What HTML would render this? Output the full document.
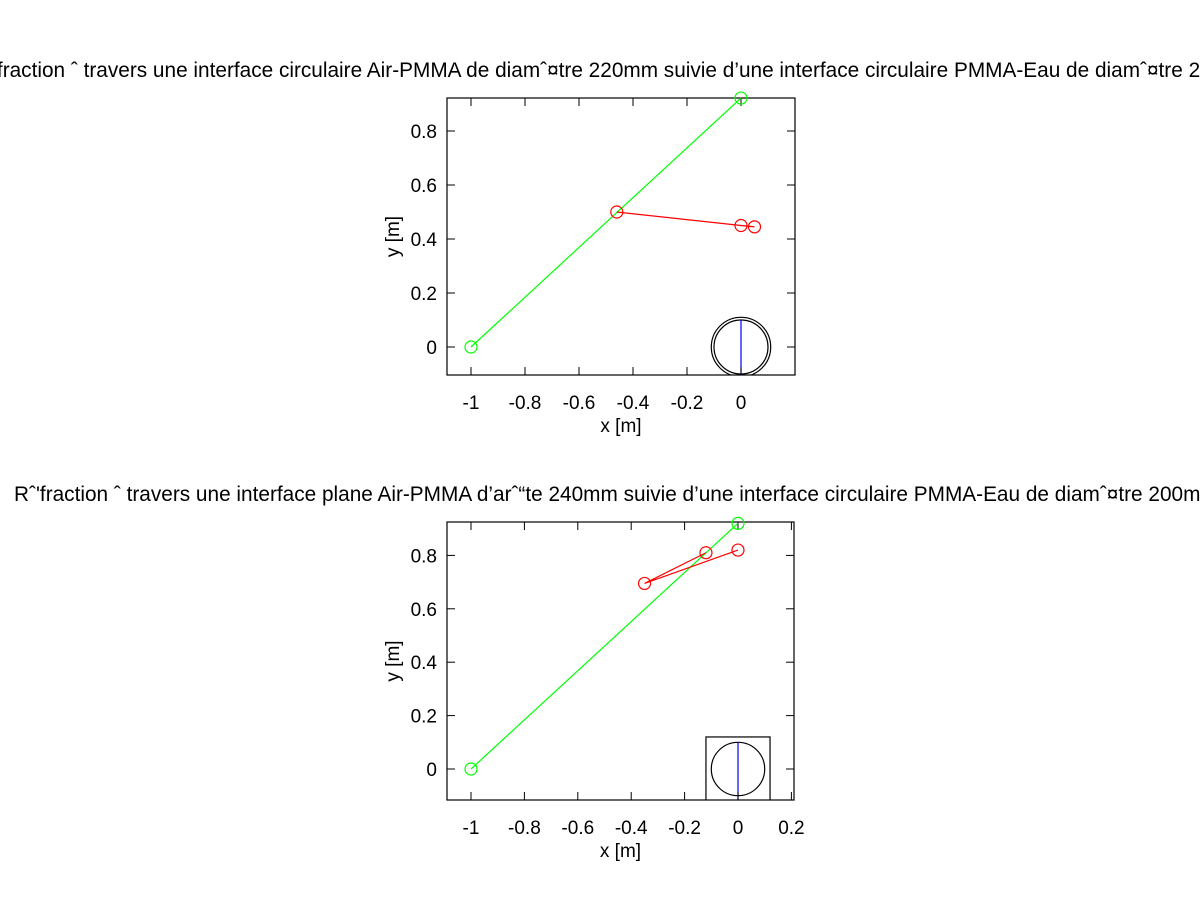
<!DOCTYPE html>
<html><head><meta charset="utf-8"><style>
body{margin:0;background:#fff}
svg{display:block;font-family:"Liberation Sans",Arial,sans-serif}
</style></head><body>
<svg id="svg" width="1200" height="900" viewBox="0 0 1200 900">
<text x="-29" y="77" font-size="20.8">Rˆ'fraction ˆ  travers une interface circulaire Air-PMMA de diamˆ¤tre 220mm suivie d’une interface circulaire PMMA-Eau de diamˆ¤tre 200mm</text>
<text x="14" y="501" font-size="20.8">Rˆ'fraction ˆ  travers une interface plane Air-PMMA d’arˆ“te 240mm suivie d’une interface circulaire PMMA-Eau de diamˆ¤tre 200mm</text>
</svg>
<script>
// top chart data
const topGreenX=[-1,0];
const topGreenY=[0,0.922];
const topRedX=[-0.46,0,0.05];
const topRedY=[0.5,0.45,0.445];
const topXTicks=[-1,-0.8,-0.6,-0.4,-0.2,0];
const topYTicks=[0,0.2,0.4,0.6,0.8];
// bottom chart data
const botGreenX=[-1,0];
const botGreenY=[0,0.92];
const botRedX=[0,-0.35,-0.12];
const botRedY=[0.82,0.695,0.81];
const botXTicks=[-1,-0.8,-0.6,-0.4,-0.2,0,0.2];
const botYTicks=[0,0.2,0.4,0.6,0.8];

const NS="http://www.w3.org/2000/svg";
const svg=document.getElementById('svg');
function mk(tag,attrs,parent){const e=document.createElementNS(NS,tag);for(const k in attrs)e.setAttribute(k,attrs[k]);(parent||svg).appendChild(e);return e;}

function chart(p){
  const g=mk('g',{});
  
  
  const sx=v=>p.ox+v*p.k, sy=v=>p.oy-v*p.k;
  const L=p.L,R=p.R,T=p.T,B=p.B;
  const clipId=p.name+'-clip';
  const cp=mk('clipPath',{id:clipId},g);mk('rect',{x:L,y:T,width:R-L,height:B-T},cp);
  const plot=mk('g',{'clip-path':'url(#'+clipId+')'},g);
  // interface
  const ig=mk('g',{},plot);
  
  
  if(p.square){mk('rect',{x:sx(-0.12),y:sy(0.12),width:0.24*p.k,height:0.24*p.k,fill:'none',stroke:'#000','stroke-width':1.2},ig);}
  else{mk('circle',{cx:sx(0),cy:sy(0),r:0.11*p.k,fill:'none',stroke:'#000','stroke-width':1.2},ig);}
  mk('circle',{cx:sx(0),cy:sy(0),r:0.1*p.k,fill:'none',stroke:'#000','stroke-width':1.2},ig);
  mk('line',{x1:sx(0),y1:sy(0.1),x2:sx(0),y2:sy(-0.2),stroke:'#0000ff','stroke-width':1.2},ig);
  // frame
  const fr=mk('rect',{x:L,y:T,width:R-L,height:B-T,fill:'none',stroke:'#000','stroke-width':1.2},g);
  
  
  p.xt.forEach(v=>{const x=sx(v);
    mk('line',{x1:x,y1:B,x2:x,y2:B-8,stroke:'#000'},g);mk('line',{x1:x,y1:T,x2:x,y2:T+8,stroke:'#000'},g);
    const t=mk('text',{x:x,y:B+34,'font-size':19,'text-anchor':'middle'},g);t.textContent=String(v);
    
    });
  p.yt.forEach(v=>{const y=sy(v);
    mk('line',{x1:L,y1:y,x2:L+8,y2:y,stroke:'#000'},g);mk('line',{x1:R,y1:y,x2:R-8,y2:y,stroke:'#000'},g);
    const t=mk('text',{x:L-10,y:y+7,'font-size':19,'text-anchor':'end'},g);t.textContent=String(v);
    
    });
  // rays (not clipped)
  const gl=mk('polyline',{points:p.gx.map((v,i)=>sx(v)+','+sy(p.gy[i])).join(' '),fill:'none',stroke:'#00ff00','stroke-width':1.2},g);
  
  
  p.gx.forEach((v,i)=>{const c=mk('circle',{cx:sx(v),cy:sy(p.gy[i]),r:6,fill:'none',stroke:'#00ff00','stroke-width':1.2},g);
    
    });
  const rl=mk('polyline',{points:p.rx.map((v,i)=>sx(v)+','+sy(p.ry[i])).join(' '),fill:'none',stroke:'#ff0000','stroke-width':1.2},g);
  
  
  p.rx.forEach((v,i)=>{const c=mk('circle',{cx:sx(v),cy:sy(p.ry[i]),r:6,fill:'none',stroke:'#ff0000','stroke-width':1.2},g);
    
    });
  const xl=mk('text',{x:(L+R)/2,y:B+57,'font-size':19,'text-anchor':'middle'},g);xl.textContent='x [m]';
  
  
  const cy=(T+B)/2;
  const yl=mk('text',{x:399,y:cy,'font-size':19,'text-anchor':'middle',transform:'rotate(-90 399 '+cy+')'},g);yl.textContent='y [m]';
  
  
}
chart({name:'top-chart',ox:741,oy:347,k:270,L:447,R:795,T:98,B:375,gx:topGreenX,gy:topGreenY,rx:topRedX,ry:topRedY,xt:topXTicks,yt:topYTicks,square:false});
chart({name:'bottom-chart',ox:738,oy:769,k:267,L:447,R:794,T:522,B:800,gx:botGreenX,gy:botGreenY,rx:botRedX,ry:botRedY,xt:botXTicks,yt:botYTicks,square:true});
</script>
</body></html>
